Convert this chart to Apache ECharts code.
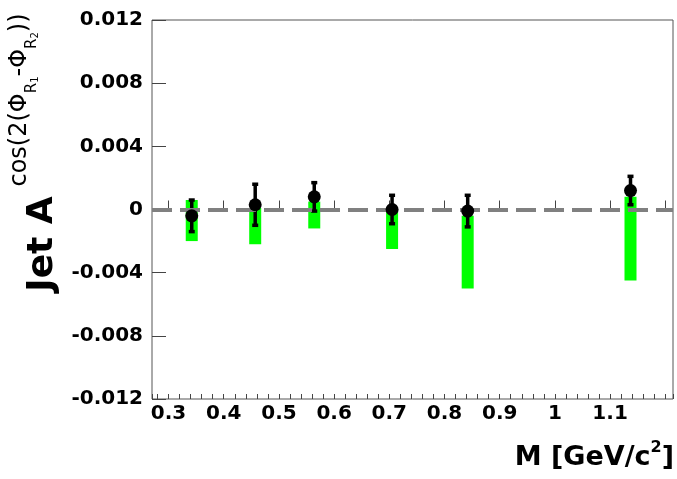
<!DOCTYPE html>
<html>
<head>
<meta charset="utf-8">
<script src="https://cdn.jsdelivr.net/npm/echarts@6/dist/echarts.min.js"></script>
<style>
  html, body { margin: 0; padding: 0; background: #fff; }
  #chart { width: 677px; height: 479px; }
</style>
</head>
<body>
<div id="chart"></div>
<script>
// Invariant mass bin centres (GeV/c^2)
const massBins = [0.342, 0.457, 0.564, 0.705, 0.842, 1.137];
// Measured asymmetry per bin
const asymmetry = [-0.0004, 0.0003, 0.0008, 0.0000, -0.0001, 0.0012];
// Statistical uncertainty (symmetric)
const statErr = [0.0010, 0.0013, 0.0009, 0.0009, 0.0010, 0.0009];
// Systematic band: upper and lower edge
const sysUpper = [0.0006, 0.0001, 0.0005, 0.0000, -0.0004, 0.0008];
const sysLower = [-0.0020, -0.0022, -0.0012, -0.0025, -0.0050, -0.0045];
// Axis ranges, tick spacing and the last labelled mass value
const xRange = [0.27, 1.214];
const yRange = [-0.012, 0.012];
const yStep = 0.004;
const xMajorStep = 0.1;
const xMinorStep = 0.02;
const xLastLabel = 1.1;

const FONT = '"DejaVu Sans", "Liberation Sans", sans-serif';

const chart = echarts.init(document.getElementById('chart'), null, { renderer: 'canvas' });

const pointData = massBins.map((m, i) => [m, asymmetry[i]]);
const statData = massBins.map((m, i) => [m, asymmetry[i] - statErr[i], asymmetry[i] + statErr[i]]);
const sysData = massBins.map((m, i) => [m, sysLower[i], sysUpper[i]]);

const option = {
  animation: false,
  backgroundColor: '#fff',
  grid: {
    left: 152, right: 4, top: 20, bottom: 80,
    outerBoundsMode: 'none', containLabel: false,
    show: true, borderColor: '#555', borderWidth: 1, backgroundColor: 'transparent'
  },
  xAxis: [
    {
      type: 'value', min: xRange[0], max: xRange[1],
      minInterval: xMajorStep, maxInterval: xMajorStep,
      position: 'bottom', offset: 0,
      axisLine: { show: false },
      axisTick: { show: true, inside: true, length: 9, lineStyle: { color: '#444', width: 1 } },
      axisLabel: {
        showMinLabel: false, showMaxLabel: false,
        margin: 5, color: '#000', fontFamily: FONT, fontWeight: 'bold', fontSize: 20,
        formatter: v => (v > xLastLabel + 1e-6 ? '' : String(+v.toFixed(2)))
      },
      splitLine: { show: false }
    },
    {
      type: 'value', min: xRange[0], max: xRange[1],
      minInterval: xMinorStep, maxInterval: xMinorStep,
      position: 'bottom', offset: 0,
      axisLine: { show: false },
      axisTick: { show: true, inside: true, length: 5, lineStyle: { color: '#444', width: 1 } },
      axisLabel: { show: false },
      splitLine: { show: false }
    }
  ],
  yAxis: {
    type: 'value', min: yRange[0], max: yRange[1], interval: yStep,
    axisLine: { show: false },
    axisTick: { show: true, inside: true, length: 14, lineStyle: { color: '#444', width: 1 } },
    axisLabel: {
      margin: 9, color: '#000', fontFamily: FONT, fontWeight: 'bold', fontSize: 20,
      formatter: v => (Math.abs(v) < 1e-9 ? '0' : v.toFixed(3))
    },
    splitLine: { show: false }
  },
  graphic: [
    {
      type: 'text', x: 43, y: 244, rotation: Math.PI / 2,
      style: {
        text: 'Jet A', fill: '#000', font: 'bold 36px ' + FONT,
        align: 'center', verticalAlign: 'middle'
      }
    },
    {
      type: 'text', x: 20, y: 100, rotation: Math.PI / 2,
      style: {
        text: '{m|cos(2(Φ}{s|R}{ss|1}{m|-Φ}{s|R}{ss|2}{m|))}',
        fill: '#000', align: 'center', verticalAlign: 'middle',
        rich: {
          m: { fontFamily: FONT, fontSize: 24, lineHeight: 40, verticalAlign: 'middle', fill: '#000' },
          s: { fontFamily: FONT, fontSize: 15, lineHeight: 28, verticalAlign: 'bottom', fill: '#000' },
          ss: { fontFamily: FONT, fontSize: 10, lineHeight: 18, verticalAlign: 'bottom', fill: '#000' }
        }
      }
    },
    {
      type: 'text', x: 674, y: 458,
      style: {
        text: '{t|M [GeV/c}{p|2}{t|]}',
        align: 'right', verticalAlign: 'middle',
        rich: {
          t: { fontFamily: FONT, fontWeight: 'bold', fontSize: 27, lineHeight: 36, verticalAlign: 'middle', fill: '#000' },
          p: { fontFamily: FONT, fontWeight: 'bold', fontSize: 16, lineHeight: 36, verticalAlign: 'top', fill: '#000' }
        }
      }
    }
  ],
  series: [
    {
      // systematic uncertainty boxes
      type: 'custom', z: 2, xAxisIndex: 0,
      data: sysData,
      renderItem: (params, api) => {
        const top = api.coord([api.value(0), api.value(2)]);
        const bot = api.coord([api.value(0), api.value(1)]);
        const halfW = 6;
        return {
          type: 'rect',
          shape: { x: top[0] - halfW, y: top[1], width: halfW * 2, height: bot[1] - top[1] },
          style: { fill: '#00ff00' }
        };
      }
    },
    {
      // zero reference line
      type: 'line', z: 3, xAxisIndex: 0, data: [],
      markLine: {
        silent: true, symbol: 'none', animation: false,
        label: { show: false },
        lineStyle: { color: '#808080', width: 4, type: [20, 8] },
        data: [{ yAxis: 0 }]
      }
    },
    {
      // statistical error bars
      type: 'custom', z: 4, xAxisIndex: 0,
      data: statData,
      renderItem: (params, api) => {
        const lo = api.coord([api.value(0), api.value(1)]);
        const hi = api.coord([api.value(0), api.value(2)]);
        const cap = 3;
        const st = { stroke: '#000', lineWidth: 3.5 };
        return {
          type: 'group',
          children: [
            { type: 'line', shape: { x1: lo[0], y1: lo[1], x2: hi[0], y2: hi[1] }, style: st },
            { type: 'line', shape: { x1: hi[0] - cap, y1: hi[1], x2: hi[0] + cap, y2: hi[1] }, style: st },
            { type: 'line', shape: { x1: lo[0] - cap, y1: lo[1], x2: lo[0] + cap, y2: lo[1] }, style: st }
          ]
        };
      }
    },
    {
      type: 'scatter', z: 5, xAxisIndex: 0,
      symbol: 'circle', symbolSize: 13,
      itemStyle: { color: '#000', opacity: 1 },
      data: pointData
    }
  ]
};

chart.setOption(option);
</script>
</body>
</html>
